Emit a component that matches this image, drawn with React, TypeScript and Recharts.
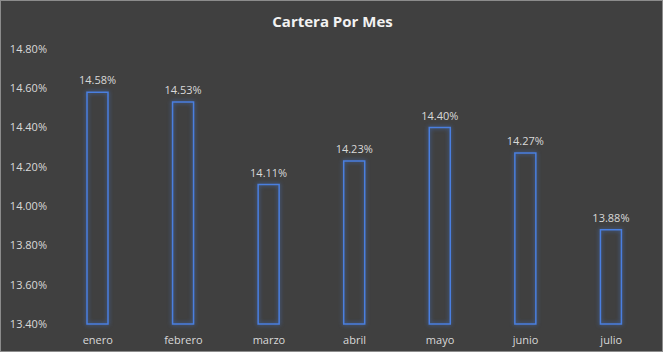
import React from "react";
import { BarChart, Bar, XAxis, YAxis, LabelList } from "recharts";

const months = ["enero", "febrero", "marzo", "abril", "mayo", "junio", "julio"];
const cartera = [14.58, 14.53, 14.11, 14.23, 14.4, 14.27, 13.88];
const yTicks = [13.4, 13.6, 13.8, 14.0, 14.2, 14.4, 14.6, 14.8];

const data = months.map((m, i) => ({ mes: m, valor: cartera[i] }));

const fmt = (v: number) => `${Number(v).toFixed(2)}%`;
const FONT = "'Open Sans', 'Noto Sans', sans-serif";

export default function App() {
  return (
    <div
      style={{
        position: "absolute",
        left: 0,
        top: 0,
        width: 663,
        height: 352,
        background: "#404040",
        boxSizing: "border-box",
        border: "1px solid #8c8c8c",
        fontFamily: FONT,
      }}
    >
      <div
        style={{
          position: "absolute",
          left: 0,
          top: 10,
          width: 663,
          textAlign: "center",
          color: "#f2f2f2",
          fontSize: 15,
          fontWeight: 700,
          fontFamily: FONT,
        }}
      >
        Cartera Por Mes
      </div>
      <div style={{ position: "absolute", left: -1, top: 0 }}>
        <BarChart
          width={663}
          height={352}
          data={data}
          margin={{ top: 48, right: 9, bottom: 0, left: 5 }}
          barSize={21}
        >
          <XAxis
            dataKey="mes"
            axisLine={false}
            tickLine={false}
            height={29}
            interval={0}
            dy={4}
            tick={{ fill: "#d9d9d9", fontSize: 11, fontFamily: FONT }}
          />
          <YAxis
            width={50}
            domain={[13.4, 14.8]}
            ticks={yTicks}
            axisLine={false}
            tickLine={false}
            tickFormatter={fmt}
            tick={{ fill: "#d9d9d9", fontSize: 11, fontFamily: FONT }}
          />
          <Bar
            dataKey="valor"
            fill="none"
            stroke="#4a7fe0"
            strokeWidth={1.5}
            isAnimationActive={false}
            style={{ filter: "drop-shadow(0 0 2px rgba(68,114,196,0.9))" }}
          >
            <LabelList
              dataKey="valor"
              position="top"
              offset={8}
              formatter={(v: any) => fmt(v)}
              fill="#d9d9d9"
              fontSize={11}
              fontFamily={FONT}
            />
          </Bar>
        </BarChart>
      </div>
    </div>
  );
}
